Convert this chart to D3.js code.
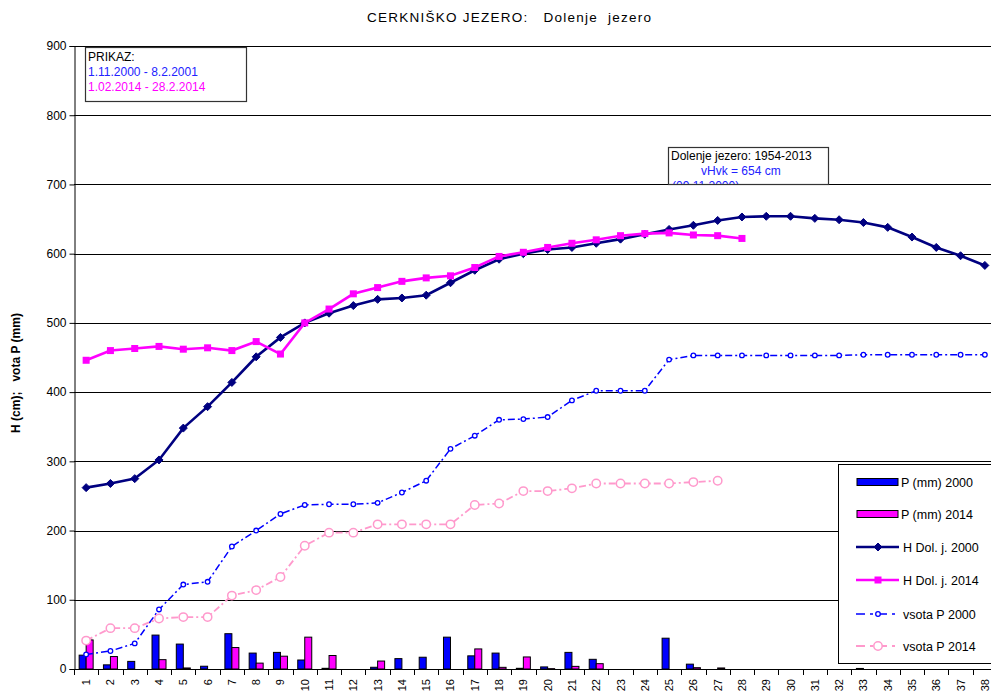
<!DOCTYPE html>
<html>
<head>
<meta charset="utf-8">
<script src="https://cdn.jsdelivr.net/npm/d3@7/dist/d3.min.js"></script>
<style>
    html, body { margin: 0; padding: 0; background: #fff; }
    #chart { width: 991px; height: 691px; overflow: hidden; }
    text { font-family: "Liberation Sans", Arial, sans-serif; white-space: pre; }
</style>
</head>
<body>
<div id="chart"></div>
<script>
const days = [1, 2, 3, 4, 5, 6, 7, 8, 9, 10, 11, 12, 13, 14, 15, 16, 17, 18, 19, 20,
    21, 22, 23, 24, 25, 26, 27, 28, 29, 30, 31, 32, 33, 34, 35, 36, 37, 38];
const yTicks = [0, 100, 200, 300, 400, 500, 600, 700, 800, 900];

// padavine (mm)
const p2000 = [20, 6, 11, 49, 36, 4, 51, 23, 24, 13, 1, 0, 2.5, 15, 17, 46, 19, 23, 1, 3,
    24, 14, 0, 0, 44.5, 7, 0, 0, 0, 0, 0, 0, 0.8, 0, 0, 0, 0, 0];
const p2014 = [42, 18, 0, 13.5, 1.5, 0, 31, 8.5, 18.5, 46, 19.5, 0, 11.5, 0, 0, 0, 29, 2.4, 17.4, 0.5,
    3.8, 7.7, 0, 0, 0, 1.9, 1.5, 0];

// vodostaj (cm)
const hDol2000 = [262, 268, 275, 302, 348, 379, 414, 451, 479, 500, 514, 525, 534, 536, 540, 558, 576, 592, 600, 606,
    609, 615, 621, 628, 635, 641, 648, 653, 654, 654, 651, 649, 645, 638, 624, 609, 597, 583];
const hDol2014 = [446, 460, 463, 466, 462, 464, 460, 473, 455, 500, 520, 542, 551, 560, 565, 568, 580, 596, 602, 609,
    615, 620, 626, 629, 630, 627, 626, 622];

// vsota padavin (mm)
const vsota2000 = [21, 26, 37, 86, 122, 126, 177, 200, 224, 237, 238, 238, 240, 255, 272, 318, 337, 360, 361, 364,
    388, 402, 402, 402, 447, 453, 453, 453, 453, 453, 453, 453, 454, 454, 454, 454, 454, 454];
const vsota2014 = [41, 59, 59, 73, 75, 75, 106, 114, 133, 178, 197, 197, 209, 209, 209, 209, 237, 239, 257, 257,
    261, 268, 268, 268, 268, 270, 272];

const W = 991, H = 691;
const plot = { left: 74, right: 997, top: 46, bottom: 669 };

const svg = d3.select('#chart')
    .append('svg')
    .attr('width', W)
    .attr('height', H);

const x = d3.scaleBand()
    .domain(days)
    .range([plot.left, plot.right])
    .padding(0);

const y = d3.scaleLinear()
    .domain([0, 900])
    .range([plot.bottom, plot.top]);

const cx = d => x(d) + x.bandwidth() / 2;
const barW = 7;

// title
svg.append('text')
    .attr('x', 367)
    .attr('y', 22)
    .attr('font-size', 13.5)
    .attr('textLength', 284)
    .attr('lengthAdjust', 'spacing')
    .text('CERKNIŠKO JEZERO:   Dolenje  jezero');

// y title
svg.append('text')
    .attr('transform', 'translate(20,373) rotate(-90)')
    .attr('text-anchor', 'middle')
    .attr('font-size', 12)
    .attr('font-weight', 'bold')
    .text('H (cm);   vota P (mm)');

// grid lines
svg.append('g')
    .selectAll('line')
    .data(yTicks.filter(t => t > 0))
    .enter().append('line')
    .attr('x1', plot.left)
    .attr('x2', plot.right)
    .attr('y1', d => Math.round(y(d)) + 0.5)
    .attr('y2', d => Math.round(y(d)) + 0.5)
    .attr('stroke', '#000')
    .attr('stroke-width', 1);

// y axis
const yAxis = svg.append('g')
    .attr('transform', `translate(${plot.left + 0.5},0)`)
    .call(d3.axisLeft(y).tickValues(yTicks).tickSize(5).tickPadding(3).tickFormat(d3.format('d')));
yAxis.select('.domain').attr('stroke', '#000');
yAxis.selectAll('text').attr('font-size', 12).attr('font-family', '"Liberation Sans", Arial, sans-serif').attr('fill', '#000');

// x axis, ticks between categories
const xg = svg.append('g');
xg.append('line')
    .attr('x1', plot.left)
    .attr('x2', plot.right)
    .attr('y1', plot.bottom + 0.5)
    .attr('y2', plot.bottom + 0.5)
    .attr('stroke', '#000');
xg.selectAll('line.tick')
    .data(days)
    .enter().append('line')
    .attr('class', 'tick')
    .attr('x1', d => Math.round(x(d)) + 0.5)
    .attr('x2', d => Math.round(x(d)) + 0.5)
    .attr('y1', plot.bottom)
    .attr('y2', plot.bottom + 6)
    .attr('stroke', '#000');
xg.selectAll('text')
    .data(days)
    .enter().append('text')
    .attr('transform', d => `translate(${cx(d) + 4},679) rotate(-90)`)
    .attr('text-anchor', 'end')
    .attr('font-size', 11)
    .text(d => d);

// bars
const bars = svg.append('g');
bars.selectAll('rect.p2000')
    .data(p2000.map((v, i) => ({ day: days[i], v })).filter(d => d.v > 0))
    .enter().append('rect')
    .attr('x', d => cx(d.day) - barW)
    .attr('y', d => y(d.v))
    .attr('width', barW)
    .attr('height', d => y(0) - y(d.v))
    .attr('fill', '#0000ff')
    .attr('stroke', '#000')
    .attr('stroke-width', 1);
bars.selectAll('rect.p2014')
    .data(p2014.map((v, i) => ({ day: days[i], v })).filter(d => d.v > 0))
    .enter().append('rect')
    .attr('x', d => cx(d.day))
    .attr('y', d => y(d.v))
    .attr('width', barW)
    .attr('height', d => y(0) - y(d.v))
    .attr('fill', '#ff00ff')
    .attr('stroke', '#000')
    .attr('stroke-width', 1);

const line = d3.line()
    .x(d => cx(d.day))
    .y(d => y(d.v));

const toPts = arr => arr.map((v, i) => ({ day: days[i], v }));

const diamond = 'M0,-4L4,0L0,4L-4,0Z';

const series = [
    { data: hDol2000, color: '#000080', width: 2.6, dash: null, marker: 'diamond' },
    { data: hDol2014, color: '#ff00ff', width: 2.6, dash: null, marker: 'square' },
    { data: vsota2000, color: '#0000ff', width: 1.5, dash: '7,3,2,3', marker: 'small' },
    { data: vsota2014, color: '#ff99cc', width: 1.8, dash: '7,3,2,3', marker: 'circle' }
];

function drawMarker(g, s, px, py) {
    if (s.marker === 'diamond') {
        g.append('path').attr('d', diamond).attr('transform', `translate(${px},${py})`)
            .attr('fill', s.color).attr('stroke', s.color);
    } else if (s.marker === 'square') {
        g.append('rect').attr('x', px - 3.5).attr('y', py - 3.5).attr('width', 7).attr('height', 7)
            .attr('fill', s.color);
    } else if (s.marker === 'small') {
        g.append('circle').attr('cx', px).attr('cy', py).attr('r', 2.3)
            .attr('fill', '#fff').attr('stroke', s.color).attr('stroke-width', 1.3);
    } else {
        g.append('circle').attr('cx', px).attr('cy', py).attr('r', 4.2)
            .attr('fill', '#fff').attr('stroke', s.color).attr('stroke-width', 1.5);
    }
}

series.forEach(s => {
    const g = svg.append('g');
    const pts = toPts(s.data);
    g.append('path')
        .datum(pts)
        .attr('d', line)
        .attr('fill', 'none')
        .attr('stroke', s.color)
        .attr('stroke-width', s.width)
        .attr('stroke-dasharray', s.dash);
    pts.forEach(d => drawMarker(g, s, cx(d.day), y(d.v)));
});

// PRIKAZ box
const info = svg.append('g');
info.append('rect')
    .attr('x', 85.5).attr('y', 47.5).attr('width', 161).attr('height', 54)
    .attr('fill', '#fff').attr('stroke', '#333').attr('stroke-width', 1.2);
info.append('text').attr('x', 88).attr('y', 61).attr('font-size', 12).attr('fill', '#000').text('PRIKAZ:');
info.append('text').attr('x', 88).attr('y', 76).attr('font-size', 12).attr('fill', '#2222ff').text('1.11.2000 - 8.2.2001');
info.append('text').attr('x', 88).attr('y', 91).attr('font-size', 12).attr('fill', '#ff00ff').text('1.02.2014 - 28.2.2014');

// annotation box
svg.append('clipPath').attr('id', 'noteClip')
    .append('rect').attr('x', 668).attr('y', 147).attr('width', 160).attr('height', 37);
const note = svg.append('g');
note.append('rect')
    .attr('x', 668.5).attr('y', 147.5).attr('width', 160).attr('height', 37)
    .attr('fill', '#fff').attr('stroke', '#333').attr('stroke-width', 1.2);
const noteText = note.append('g').attr('clip-path', 'url(#noteClip)');
noteText.append('text').attr('x', 671).attr('y', 160).attr('font-size', 12).attr('fill', '#000').text('Dolenje jezero: 1954-2013');
noteText.append('text').attr('x', 701).attr('y', 175).attr('font-size', 12).attr('fill', '#2222ff').text('vHvk = 654 cm');
noteText.append('text').attr('x', 672).attr('y', 190).attr('font-size', 12).attr('fill', '#2222ff').text('(09.11.2000)');

// legend
const legendItems = [
    { label: 'P (mm) 2000', type: 'bar', color: '#0000ff', y: 482 },
    { label: 'P (mm) 2014', type: 'bar', color: '#ff00ff', y: 514 },
    { label: 'H Dol. j. 2000', type: 'line', s: series[0], y: 547 },
    { label: 'H Dol. j. 2014', type: 'line', s: series[1], y: 580 },
    { label: 'vsota P 2000', type: 'line', s: series[2], y: 614 },
    { label: 'vsota P 2014', type: 'line', s: series[3], y: 646 }
];

const legend = svg.append('g');
legend.append('rect')
    .attr('x', 838.5).attr('y', 464.5).attr('width', 170).attr('height', 199)
    .attr('fill', '#fff').attr('stroke', '#000').attr('stroke-width', 1);

legendItems.forEach(item => {
    if (item.type === 'bar') {
        legend.append('rect')
            .attr('x', 857).attr('y', item.y - 3.5).attr('width', 41).attr('height', 7)
            .attr('fill', item.color).attr('stroke', '#000').attr('stroke-width', 1);
        legend.append('text').attr('x', 901).attr('y', item.y + 4.5).attr('font-size', 12.5).text(item.label);
    } else {
        const s = item.s;
        legend.append('line')
            .attr('x1', 856).attr('x2', 899).attr('y1', item.y).attr('y2', item.y)
            .attr('stroke', s.color).attr('stroke-width', s.width)
            .attr('stroke-dasharray', s.dash ? '9,5,3,5' : null);
        drawMarker(legend, s, 878, item.y);
        legend.append('text').attr('x', 903).attr('y', item.y + 4.5).attr('font-size', 12.5).text(item.label);
    }
});
</script>
</body>
</html>
